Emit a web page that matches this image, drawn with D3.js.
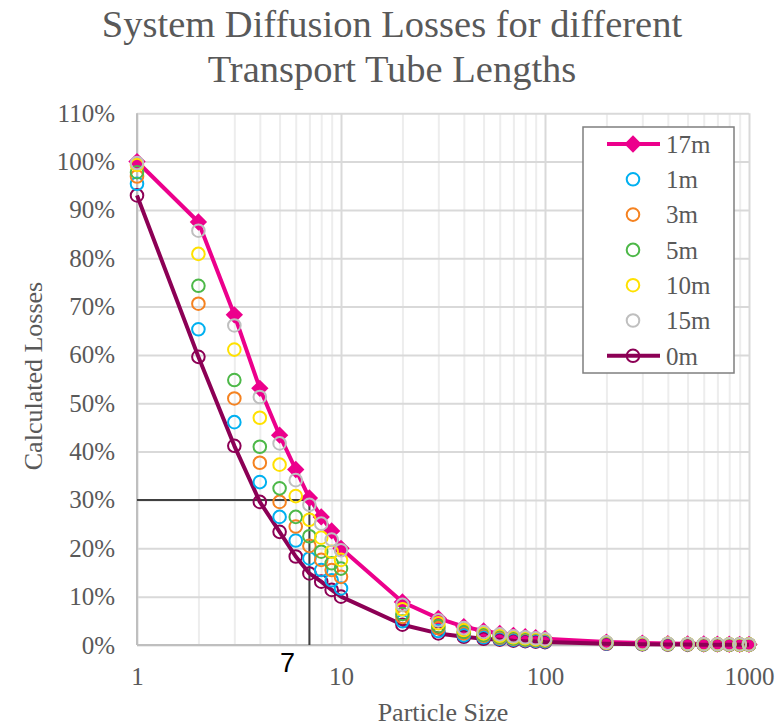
<!DOCTYPE html>
<html>
<head>
<meta charset="utf-8">
<script src="https://cdn.jsdelivr.net/npm/d3@7"></script>
<style>
  body { margin: 0; background: #fff; }
  svg { display: block; font-family: "Liberation Serif", serif; }
</style>
</head>
<body>
<div id="chart"></div>
<script>
// Datos
const sizes = [1, 2, 3, 4, 5, 6, 7, 8, 9, 10, 20, 30, 40, 50, 60, 70, 80, 90, 100, 200, 300, 400, 500, 600, 700, 800, 900, 1000];

const loss17m = [100, 87.5, 68.3, 53.1, 43.4, 36.3, 30.4, 26.5, 23.6, 20.0, 8.9, 5.5, 3.8, 2.9, 2.4, 2.0, 1.7, 1.5, 1.3, 0.6, 0.4, 0.3, 0.25, 0.2, 0.18, 0.15, 0.13, 0.12];
const loss1m = [95.4, 65.3, 46.1, 33.7, 26.5, 21.6, 17.9, 15.5, 13.4, 11.7, 4.9, 2.9, 2.0, 1.6, 1.3, 1.1, 0.95, 0.85, 0.75, 0.33, 0.2, 0.15, 0.12, 0.1, 0.09, 0.08, 0.07, 0.06];
const loss3m = [96.9, 70.6, 51.0, 37.7, 29.6, 24.5, 20.5, 17.6, 15.5, 14.1, 5.8, 3.5, 2.4, 1.9, 1.5, 1.3, 1.1, 1.0, 0.9, 0.4, 0.25, 0.19, 0.15, 0.12, 0.11, 0.09, 0.08, 0.07];
const loss5m = [97.8, 74.3, 54.8, 41.0, 32.4, 26.5, 22.5, 19.3, 16.9, 15.8, 6.4, 3.9, 2.7, 2.1, 1.7, 1.4, 1.2, 1.1, 1.0, 0.45, 0.28, 0.21, 0.17, 0.14, 0.12, 0.1, 0.09, 0.08];
const loss10m = [99.3, 80.9, 61.1, 47.0, 37.3, 30.8, 25.9, 22.2, 19.3, 17.6, 7.4, 4.5, 3.1, 2.4, 1.9, 1.6, 1.4, 1.2, 1.1, 0.5, 0.32, 0.24, 0.2, 0.16, 0.14, 0.12, 0.11, 0.1];
const loss15m = [99.7, 85.7, 66.1, 51.3, 41.7, 34.1, 29.0, 25.1, 21.8, 19.6, 8.3, 5.1, 3.5, 2.7, 2.2, 1.8, 1.6, 1.4, 1.2, 0.55, 0.35, 0.27, 0.22, 0.18, 0.16, 0.14, 0.12, 0.11];
const loss0m = [93.0, 59.6, 41.2, 29.6, 23.4, 18.3, 14.8, 13.1, 11.4, 10.0, 4.2, 2.4, 1.7, 1.3, 1.1, 0.9, 0.8, 0.7, 0.6, 0.25, 0.15, 0.1, 0.08, 0.07, 0.06, 0.05, 0.05, 0.04];

const xTicks = [1, 10, 100, 1000];
const xMinor = [2, 3, 4, 5, 6, 7, 8, 9, 20, 30, 40, 50, 60, 70, 80, 90, 200, 300, 400, 500, 600, 700, 800, 900];
const yTicks = [0, 10, 20, 30, 40, 50, 60, 70, 80, 90, 100, 110];

// Linea de referencia (7, 30%)
const refX = 7;
const refY = 30;

const titleLines = ["System Diffusion Losses for different", "Transport Tube Lengths"];

// Series: orden de dibujo
const series = [
  { name: "17m", values: loss17m, color: "#EC008C", line: true, marker: "diamond" },
  { name: "0m", values: loss0m, color: "#8C0055", line: true, marker: "circle" },
  { name: "1m", values: loss1m, color: "#00B0F0", line: false, marker: "circle" },
  { name: "3m", values: loss3m, color: "#F58220", line: false, marker: "circle" },
  { name: "5m", values: loss5m, color: "#4DB848", line: false, marker: "circle" },
  { name: "10m", values: loss10m, color: "#FFE100", line: false, marker: "circle" },
  { name: "15m", values: loss15m, color: "#BFBFBF", line: false, marker: "circle" }
];
const legendOrder = ["17m", "1m", "3m", "5m", "10m", "15m", "0m"];

const width = 784, height = 726;
const mLeft = 137, mRight = 749, mTop = 113.2, mBottom = 645;

const svg = d3.select('#chart').append('svg')
  .attr('width', width)
  .attr('height', height);

const x = d3.scaleLog().domain([1, 1000]).range([mLeft, mRight]);
const y = d3.scaleLinear().domain([0, 110]).range([mBottom, mTop]);

// Rejilla menor
svg.append('g')
  .attr('transform', `translate(0, ${mBottom})`)
  .call(d3.axisBottom(x).tickValues(xMinor).tickSize(-(mBottom - mTop)).tickFormat(''))
  .call(g => g.select('.domain').remove())
  .call(g => g.selectAll('line').attr('stroke', '#EDEDED').attr('stroke-width', 2));

// Rejilla mayor
svg.append('g')
  .attr('transform', `translate(0, ${mBottom})`)
  .call(d3.axisBottom(x).tickValues(xTicks).tickSize(-(mBottom - mTop)).tickFormat(''))
  .call(g => g.select('.domain').remove())
  .call(g => g.selectAll('line').attr('stroke', '#D9D9D9').attr('stroke-width', 2));

svg.append('g')
  .attr('transform', `translate(${mLeft}, 0)`)
  .call(d3.axisLeft(y).tickValues(yTicks).tickSize(-(mRight - mLeft)).tickFormat(''))
  .call(g => g.select('.domain').remove())
  .call(g => g.selectAll('line').attr('stroke', '#D9D9D9').attr('stroke-width', 2));

// Ejes
svg.append('line').attr('x1', mLeft).attr('x2', mLeft).attr('y1', mTop).attr('y2', mBottom)
  .attr('stroke', '#BFBFBF').attr('stroke-width', 2);
svg.append('line').attr('x1', mLeft).attr('x2', mRight).attr('y1', mBottom).attr('y2', mBottom)
  .attr('stroke', '#BFBFBF').attr('stroke-width', 2);

// Etiquetas Y
svg.append('g')
  .attr('transform', `translate(${mLeft}, 0)`)
  .call(d3.axisLeft(y).tickValues(yTicks).tickSize(0).tickPadding(22).tickFormat(d => d + '%'))
  .call(g => g.select('.domain').remove())
  .call(g => g.selectAll('text')
    .attr('fill', '#595959')
    .style('font-family', '"Liberation Serif", serif')
    .style('font-size', '25px'));

// Etiquetas X
svg.append('g')
  .attr('transform', `translate(0, ${mBottom})`)
  .call(d3.axisBottom(x).tickValues(xTicks).tickSize(0).tickPadding(22).tickFormat(d3.format('d')))
  .call(g => g.select('.domain').remove())
  .call(g => g.selectAll('text')
    .attr('fill', '#595959')
    .style('font-family', '"Liberation Serif", serif')
    .style('font-size', '25px'));

// Linea de referencia
svg.append('line')
  .attr('x1', x(1)).attr('x2', x(refX))
  .attr('y1', y(refY)).attr('y2', y(refY))
  .attr('stroke', '#404040').attr('stroke-width', 2);
svg.append('line')
  .attr('x1', x(refX)).attr('x2', x(refX))
  .attr('y1', y(refY)).attr('y2', y(0))
  .attr('stroke', '#404040').attr('stroke-width', 2);

// Series
const lineGen = d3.line().x(d => x(d[0])).y(d => y(d[1]));
const diamond = d3.symbol(d3.symbolSquare, 150);

series.forEach(s => {
  const pts = sizes.map((v, i) => [v, s.values[i]]);
  const g = svg.append('g');
  if (s.line) {
    g.append('path')
      .attr('d', lineGen(pts))
      .attr('fill', 'none')
      .attr('stroke', s.color)
      .attr('stroke-width', 4)
      .attr('stroke-linejoin', 'round');
  }
  if (s.marker === 'diamond') {
    g.selectAll('path.m').data(pts).join('path')
      .attr('class', 'm')
      .attr('d', diamond)
      .attr('transform', d => `translate(${x(d[0])}, ${y(d[1])}) rotate(45)`)
      .attr('fill', s.color);
  } else {
    g.selectAll('circle').data(pts).join('circle')
      .attr('cx', d => x(d[0]))
      .attr('cy', d => y(d[1]))
      .attr('r', 6.3)
      .attr('fill', 'none')
      .attr('stroke', s.color)
      .attr('stroke-width', 2);
  }
});

// "7"
svg.append('text')
  .attr('x', x(refX) - 22)
  .attr('y', 672)
  .attr('text-anchor', 'middle')
  .style('font-family', '"Liberation Sans", sans-serif')
  .style('font-size', '27px')
  .attr('fill', '#000')
  .text(refX);

// Leyenda
const legend = svg.append('g');
legend.append('rect')
  .attr('x', 583).attr('y', 127)
  .attr('width', 151).attr('height', 246)
  .attr('fill', '#fff')
  .attr('stroke', '#7F7F7F')
  .attr('stroke-width', 1.5);

legendOrder.forEach((name, i) => {
  const s = series.find(d => d.name === name);
  const cy = 144 + i * 35.3;
  const item = legend.append('g').attr('transform', `translate(633, ${cy})`);
  if (s.line) {
    item.append('line').attr('x1', -26).attr('x2', 27)
      .attr('stroke', s.color).attr('stroke-width', 4);
  }
  if (s.marker === 'diamond') {
    item.append('path').attr('d', diamond).attr('transform', 'rotate(45)').attr('fill', s.color);
  } else {
    item.append('circle').attr('r', 6.3).attr('fill', 'none')
      .attr('stroke', s.color).attr('stroke-width', 2);
  }
  item.append('text')
    .attr('x', 33)
    .attr('dy', '0.35em')
    .attr('fill', '#595959')
    .style('font-size', '25px')
    .text(name);
});

// Titulo
svg.append('text')
  .attr('x', 392)
  .attr('y', 37)
  .attr('text-anchor', 'middle')
  .attr('fill', '#595959')
  .style('font-size', '38.5px')
  .selectAll('tspan').data(titleLines).join('tspan')
  .attr('x', 392)
  .attr('dy', (d, i) => i === 0 ? 0 : 45)
  .text(d => d);

// Titulos de ejes
svg.append('text')
  .attr('x', (mLeft + mRight) / 2)
  .attr('y', 721)
  .attr('text-anchor', 'middle')
  .attr('fill', '#595959')
  .style('font-size', '26px')
  .text('Particle Size');

svg.append('text')
  .attr('transform', `translate(42, 376) rotate(-90)`)
  .attr('text-anchor', 'middle')
  .attr('fill', '#595959')
  .style('font-size', '26px')
  .text('Calculated Losses');
</script>
</body>
</html>
